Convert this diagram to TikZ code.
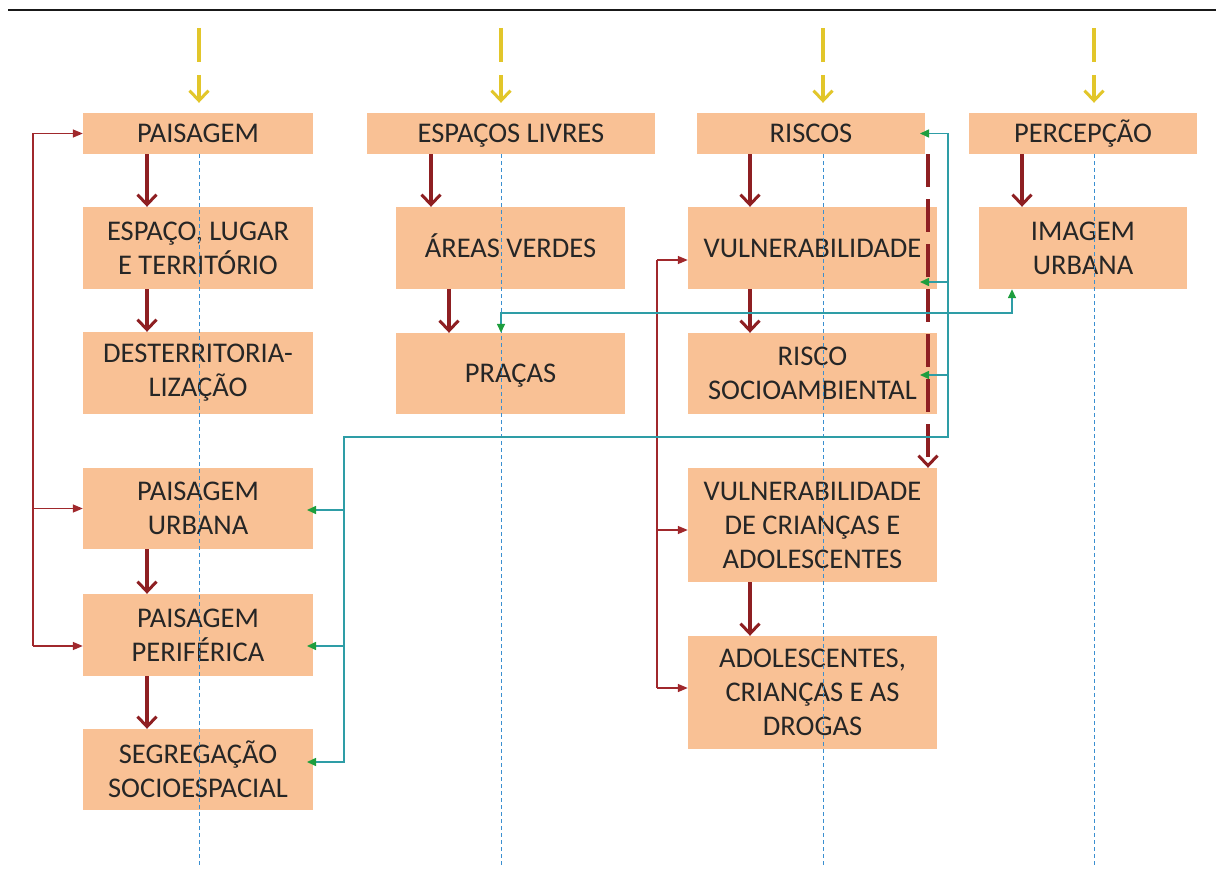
\documentclass[tikz,border=0pt]{standalone}
\usepackage{fontspec}
\setmainfont{Carlito}
\usetikzlibrary{arrows.meta}
\definecolor{boxc}{HTML}{F9C195}
\definecolor{txtc}{HTML}{262626}
\definecolor{brownc}{HTML}{8E1F22}
\definecolor{redc}{HTML}{A0282C}
\definecolor{tealc}{HTML}{2E9DA6}
\definecolor{greenc}{HTML}{1E9E3E}
\definecolor{bluec}{HTML}{3A8FD0}
\definecolor{yelc}{HTML}{E2C62A}
\tikzset{
  box/.style={fill=boxc, inner sep=0pt, align=center, text=txtc,
    font=\fontsize{28.5}{34}\selectfont},
  one/.style={text height=24pt, text depth=5.6pt},
  brownarrow/.style={draw=brownc, line width=4.5pt,
    -{Straight Barb[length=10pt,width=19pt,line width=3pt]}},
  browndash/.style={draw=brownc, line width=4.5pt, dash pattern=on 33pt off 12pt,
    -{Straight Barb[length=10pt,width=19pt,line width=3pt]}},
  yelarrow/.style={draw=yelc, line width=4pt, dash pattern=on 34pt off 13pt,
    -{Straight Barb[length=10pt,width=19pt,line width=3pt]}, shorten >=10pt},
  redline/.style={draw=redc, line width=1.5pt},
  redarrow/.style={draw=redc, line width=1.5pt, -{Triangle[length=10pt,width=8pt]}},
  tealline/.style={draw=tealc, line width=1.5pt},
  tealarrow/.style={draw=tealc, line width=1.5pt, -{Triangle[length=9pt,width=8pt,color=greenc]}},
  guide/.style={draw=bluec, line width=1pt, dash pattern=on 4pt off 3pt},
}
\begin{document}
\begin{tikzpicture}[x=1pt,y=-1pt]
\useasboundingbox (0,0) rectangle (1216,880);
\coordinate (r0) at (8,10);
\coordinate (r1) at (1216,10);
\draw[line width=2.5pt, black!90] (r0) -- (r1);

% boxes
\node[box, one, minimum width=230pt, minimum height=41pt] (paisagem) at (198,133.5) {PAISAGEM};
\node[box, minimum width=230pt, minimum height=82pt] (espaco) at (198,248) {ESPAÇO, LUGAR\\E TERRITÓRIO};
\node[box, minimum width=230pt, minimum height=82pt] (desterr) at (198,373) {DESTERRITORIA-\\LIZAÇÃO};
\node[box, minimum width=230pt, minimum height=81pt] (purb) at (198,508.5) {PAISAGEM\\URBANA};
\node[box, minimum width=230pt, minimum height=82pt] (pper) at (198,635) {PAISAGEM\\PERIFÉRICA};
\node[box, minimum width=230pt, minimum height=81pt] (seg) at (198,769.5) {SEGREGAÇÃO\\SOCIOESPACIAL};

\node[box, one, minimum width=288pt, minimum height=41pt] (livres) at (511,133.5) {ESPAÇOS LIVRES};
\node[box, one, minimum width=229pt, minimum height=82pt] (verdes) at (510.5,248) {ÁREAS VERDES};
\node[box, one, minimum width=229pt, minimum height=81pt] (pracas) at (510.5,373.5) {PRAÇAS};

\node[box, one, minimum width=228pt, minimum height=41pt] (riscos) at (811,133.5) {RISCOS};
\node[box, one, minimum width=249pt, minimum height=82pt] (vuln) at (812.5,248) {VULNERABILIDADE};
\node[box, minimum width=249pt, minimum height=81pt] (rsocio) at (812.5,373.5) {RISCO\\SOCIOAMBIENTAL};
\node[box, minimum width=249pt, minimum height=114pt] (vca) at (812.5,525) {VULNERABILIDADE\\DE CRIANÇAS E\\ADOLESCENTES};
\node[box, minimum width=249pt, minimum height=113pt] (acd) at (812.5,692.5) {ADOLESCENTES,\\CRIANÇAS E AS\\DROGAS};

\node[box, one, minimum width=228pt, minimum height=41pt] (percep) at (1083,133.5) {PERCEPÇÃO};
\node[box, minimum width=208pt, minimum height=82pt] (imagem) at (1083,248) {IMAGEM\\URBANA};

% guide lines
\coordinate (g1) at (199,866);
\coordinate (g2) at (501,866);
\coordinate (g3) at (823,866);
\coordinate (g4) at (1094,866);
\draw[guide] (paisagem.south -| g1) -- (g1);
\draw[guide] (livres.south -| g2) -- (g2);
\draw[guide] (riscos.south -| g3) -- (g3);
\draw[guide] (percep.south -| g4) -- (g4);

% yellow arrows
\coordinate (y1) at (199,28);
\coordinate (y2) at (501,28);
\coordinate (y3) at (823,28);
\coordinate (y4) at (1094,28);
\draw[yelarrow] (y1) -- (y1 |- paisagem.north);
\draw[yelarrow] (y2) -- (y2 |- livres.north);
\draw[yelarrow] (y3) -- (y3 |- riscos.north);
\draw[yelarrow] (y4) -- (y4 |- percep.north);

% brown arrows
\coordinate (xA) at (147,0);
\coordinate (xB) at (431,0);
\coordinate (xC) at (449,0);
\coordinate (xD) at (750,0);
\coordinate (xE) at (1022,0);
\coordinate (xF) at (928,0);
\draw[brownarrow] (paisagem.south -| xA) -- (espaco.north -| xA);
\draw[brownarrow] (espaco.south -| xA) -- (desterr.north -| xA);
\draw[brownarrow] (purb.south -| xA) -- (pper.north -| xA);
\draw[brownarrow] (pper.south -| xA) -- (seg.north -| xA);
\draw[brownarrow] (livres.south -| xB) -- (verdes.north -| xB);
\draw[brownarrow] (verdes.south -| xC) -- (pracas.north -| xC);
\draw[brownarrow] (riscos.south -| xD) -- (vuln.north -| xD);
\draw[brownarrow] (vuln.south -| xD) -- (rsocio.north -| xD);
\draw[brownarrow] (vca.south -| xD) -- (acd.north -| xD);
\draw[brownarrow] (percep.south -| xE) -- (imagem.north -| xE);
\draw[browndash] (riscos.south -| xF) -- (vca.north -| xF);

% red thin connectors, left
\coordinate (xL) at (33,0);
\coordinate (yPP) at (0,646);
\draw[redline] (paisagem.west -| xL) -- (xL |- yPP);
\draw[redarrow] (paisagem.west -| xL) -- (paisagem.west);
\draw[redarrow] (purb.west -| xL) -- (purb.west);
\draw[redarrow] (xL |- yPP) -- (pper.west |- yPP);

% red thin connectors, column 3
\coordinate (xM) at (657,0);
\coordinate (yV) at (0,260);
\coordinate (yVC) at (0,530);
\coordinate (yAC) at (0,688);
\draw[redline] (xM |- yV) -- (xM |- yAC);
\draw[redarrow] (xM |- yV) -- (vuln.west |- yV);
\draw[redarrow] (xM |- yVC) -- (vca.west |- yVC);
\draw[redarrow] (xM |- yAC) -- (acd.west |- yAC);

% teal: PRAÇAS <-> IMAGEM URBANA
\coordinate (t1) at (501,313);
\coordinate (t2) at (1012,313);
\draw[tealline, {Triangle[length=9pt,width=8pt,color=greenc]}-{Triangle[length=9pt,width=8pt,color=greenc]}]
  (pracas.north -| t1) -- (t1) -- (t2) -- (imagem.south -| t2);

% teal: big connector
\coordinate (tv) at (948,437);
\coordinate (tl) at (344,437);
\coordinate (tip) at (920,0);
\coordinate (tipL) at (307,0);
\coordinate (yR2) at (0,282);
\coordinate (yR3) at (0,375);
\coordinate (yPU) at (0,510);
\coordinate (ySS) at (0,762);
\draw[tealline, {Triangle[length=9pt,width=8pt,color=greenc]}-{Triangle[length=9pt,width=8pt,color=greenc]}]
  (tip |- riscos.east) -- (tv |- riscos.east) -- (tv) -- (tl) -- (tl |- ySS) -- (tipL |- ySS);
\draw[tealarrow] (tv |- yR2) -- (tip |- yR2);
\draw[tealarrow] (tv |- yR3) -- (tip |- yR3);
\draw[tealarrow] (tl |- yPU) -- (tipL |- yPU);
\draw[tealarrow] (tl |- yPP) -- (tipL |- yPP);
\end{tikzpicture}
\end{document}
